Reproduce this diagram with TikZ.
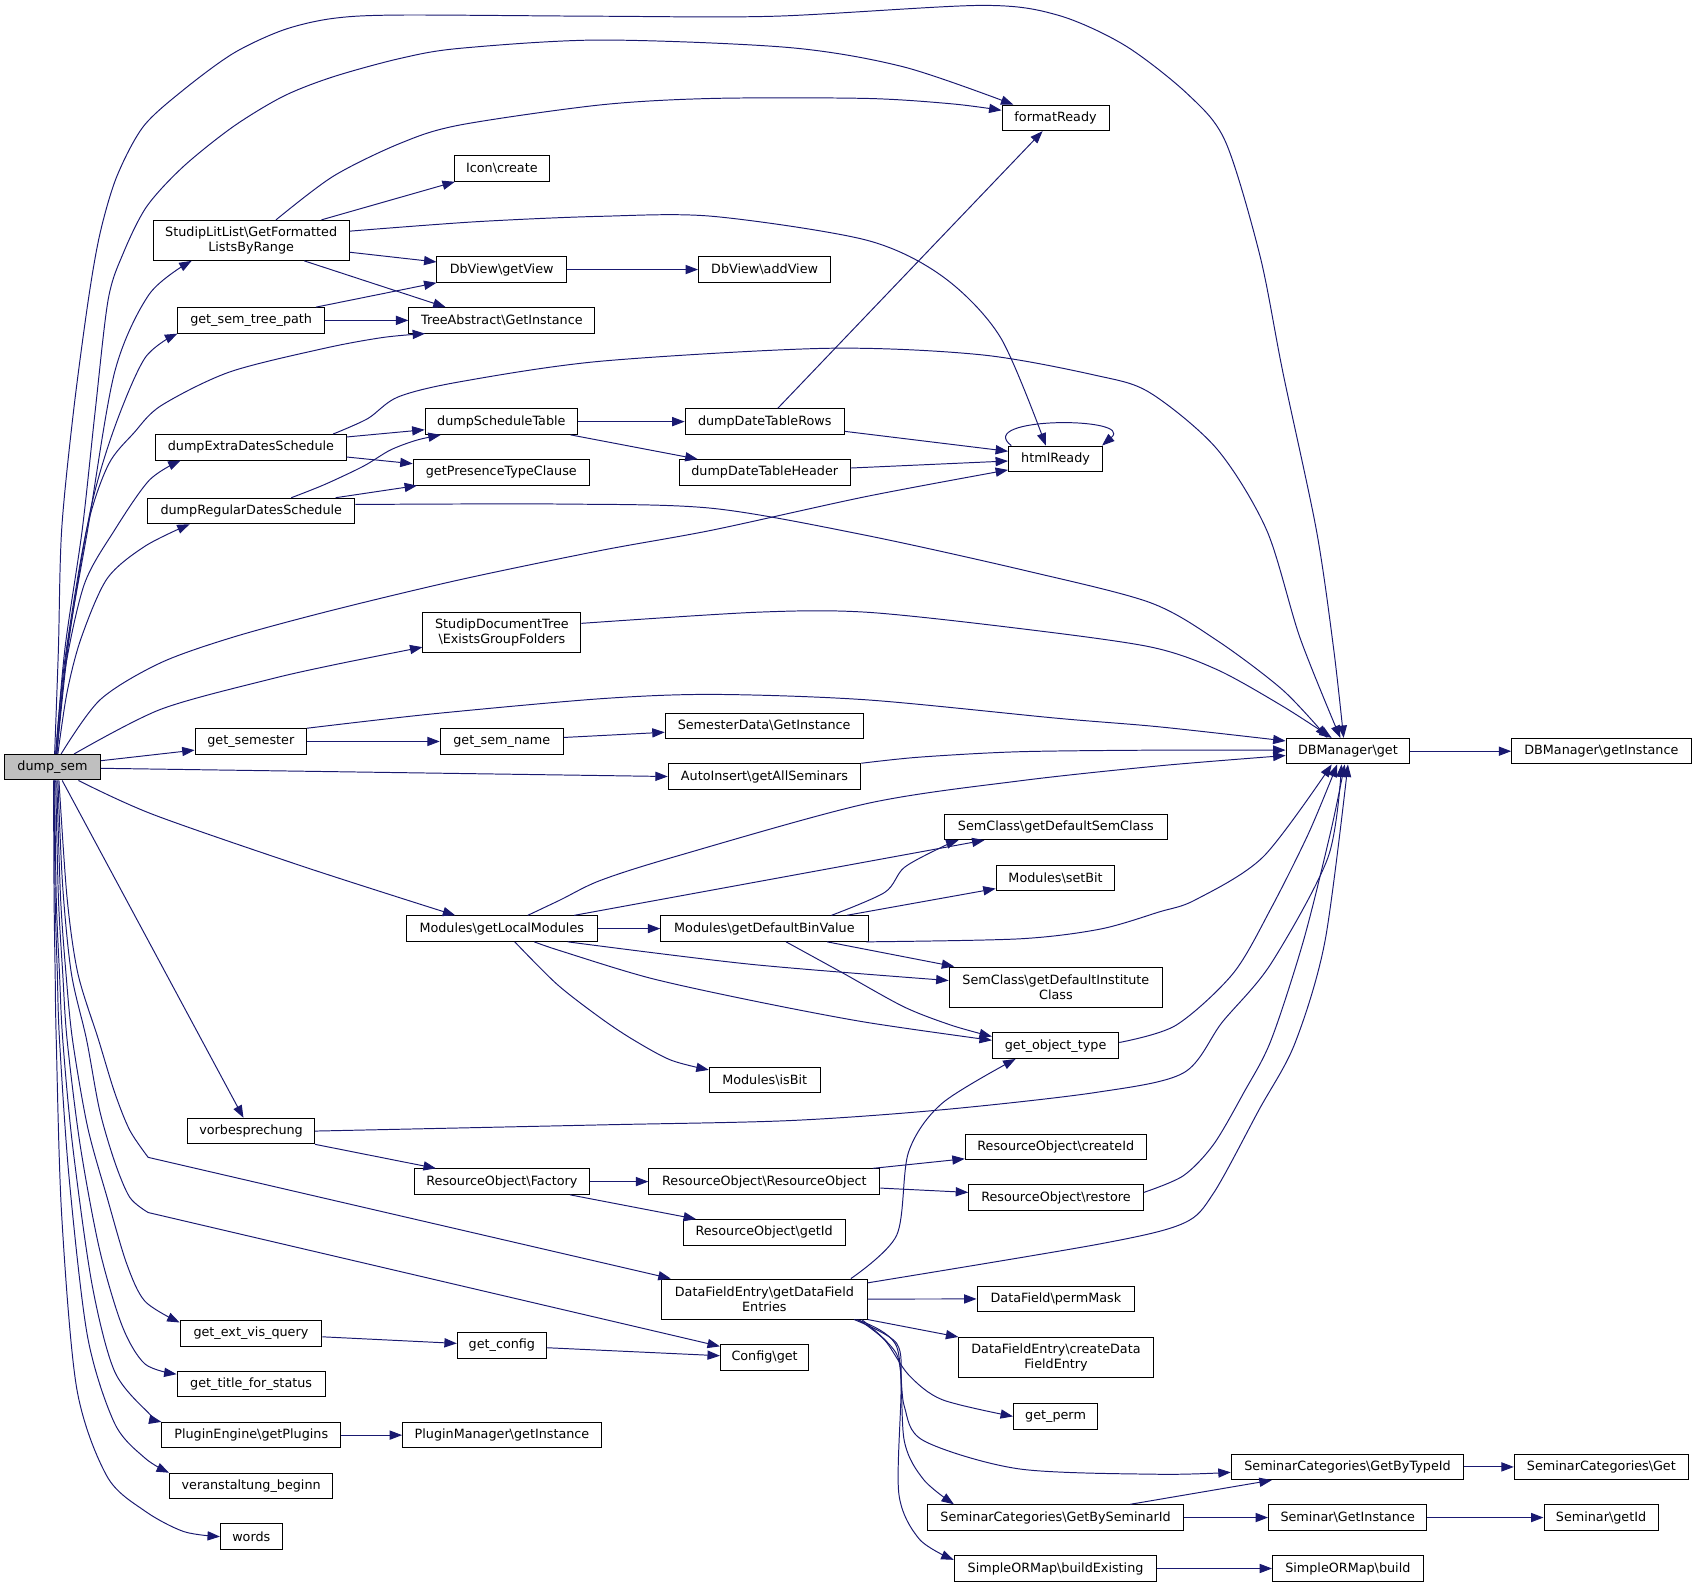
\documentclass[tikz,border=0pt]{standalone}
\usepackage{fontspec}
\setmainfont{DejaVu Sans}
\usetikzlibrary{arrows.meta}
\definecolor{edgec}{RGB}{25,25,112}
\definecolor{rootfill}{RGB}{191,191,191}
\newcommand{\bsl}{\textbackslash}
\begin{document}
\begin{tikzpicture}[x=1pt,y=-1pt,
  nbox/.style={draw=black, line width=0.9pt, fill=white, inner sep=0pt, minimum height=23.6pt, font=\fontsize{11.8}{13.5}\selectfont, align=center},
  tall/.style={minimum height=37pt},
  arr/.style={draw=edgec, line width=0.9pt, -{Triangle[length=11.5pt,width=8.5pt]}}
]
\useasboundingbox (0,0) rectangle (1568,1467.2);

% nodes
\node[nbox, fill=rootfill, minimum width=88.5] (dumpsem) at (48.5,709.3) {dump\_sem};
\node[nbox, minimum width=99] (fmt) at (975.9,109) {formatReady};
\node[nbox, minimum width=88] (icon) at (464,155.8) {Icon\bsl create};
\node[nbox, tall, minimum width=181.5] (slit) at (232.2,222.2) {StudipLitList\bsl GetFormatted\\ListsByRange};
\node[nbox, minimum width=119.6] (getview) at (463.8,249.2) {DbView\bsl getView};
\node[nbox, minimum width=122.2] (addview) at (706.9,249.2) {DbView\bsl addView};
\node[nbox, minimum width=135.5] (semtree) at (232.2,296.2) {get\_sem\_tree\_path};
\node[nbox, minimum width=172] (treeabs) at (464,296.2) {TreeAbstract\bsl GetInstance};
\node[nbox, minimum width=141] (dst) at (463.5,389.8) {dumpScheduleTable};
\node[nbox, minimum width=147.2] (dtr) at (707,389.8) {dumpDateTableRows};
\node[nbox, minimum width=87] (html) at (975.9,424.2) {htmlReady};
\node[nbox, minimum width=176] (dextra) at (232,413.5) {dumpExtraDatesSchedule};
\node[nbox, minimum width=163] (gptc) at (463.5,436.7) {getPresenceTypeClause};
\node[nbox, minimum width=158] (dth) at (707,436.7) {dumpDateTableHeader};
\node[nbox, minimum width=191.4] (dreg) at (232.3,472.4) {dumpRegularDatesSchedule};
\node[nbox, tall, minimum width=146] (sdoc) at (464,584.8) {StudipDocumentTree\\\bsl ExistsGroupFolders};
\node[nbox, minimum width=103] (getsem) at (231.9,685.5) {get\_semester};
\node[nbox, minimum width=113.8] (gsn) at (463.9,685.5) {get\_sem\_name};
\node[nbox, minimum width=183] (semdata) at (706.5,671) {SemesterData\bsl GetInstance};
\node[nbox, minimum width=178] (autoins) at (706.8,717.9) {AutoInsert\bsl getAllSeminars};
\node[nbox, minimum width=114.4] (dbget) at (1246.2,694.5) {DBManager\bsl get};
\node[nbox, minimum width=165.8] (dbinst) at (1480.5,694.5) {DBManager\bsl getInstance};
\node[nbox, minimum width=206] (scsem) at (976.2,764.5) {SemClass\bsl getDefaultSemClass};
\node[nbox, minimum width=109.8] (setbit) at (975.9,811.5) {Modules\bsl setBit};
\node[nbox, minimum width=176.3] (glm) at (463.9,858.5) {Modules\bsl getLocalModules};
\node[nbox, minimum width=191.7] (gdbv) at (706.7,858.5) {Modules\bsl getDefaultBinValue};
\node[nbox, tall, minimum width=197.5] (scinst) at (976.2,912.5) {SemClass\bsl getDefaultInstitute\\Class};
\node[nbox, minimum width=116.8] (gobj) at (975.9,966.8) {get\_object\_type};
\node[nbox, minimum width=102.6] (isbit) at (707,998.6) {Modules\bsl isBit};
\node[nbox, minimum width=117.4] (vorb) at (232.1,1045.7) {vorbesprechung};
\node[nbox, minimum width=167.4] (createid) at (976.1,1060.3) {ResourceObject\bsl createId};
\node[nbox, minimum width=162] (fac) at (464,1092.4) {ResourceObject\bsl Factory};
\node[nbox, minimum width=213.7] (ro) at (706.7,1092.4) {ResourceObject\bsl ResourceObject};
\node[nbox, minimum width=161.5] (restore) at (976.3,1107.1) {ResourceObject\bsl restore};
\node[nbox, minimum width=149.7] (getid) at (706.5,1139.3) {ResourceObject\bsl getId};
\node[nbox, tall, minimum width=190.3] (dfe) at (706.7,1201) {DataFieldEntry\bsl getDataField\\Entries};
\node[nbox, minimum width=145.8] (perm) at (976.2,1200.9) {DataField\bsl permMask};
\node[nbox, minimum width=131] (gevq) at (232,1232.9) {get\_ext\_vis\_query};
\node[nbox, minimum width=82.4] (gcfg) at (464,1244) {get\_config};
\node[nbox, minimum width=81.7] (cfg) at (706.9,1255) {Config\bsl get};
\node[nbox, tall, minimum width=179.7] (cdfe) at (976.3,1255) {DataFieldEntry\bsl createData\\FieldEntry};
\node[nbox, minimum width=137] (gtfs) at (232.2,1279.7) {get\_title\_for\_status};
\node[nbox, minimum width=77.8] (gperm) at (975.9,1309.5) {get\_perm};
\node[nbox, minimum width=165.2] (pe) at (232.3,1326.8) {PluginEngine\bsl getPlugins};
\node[nbox, minimum width=183.8] (pm) at (464.1,1326.8) {PluginManager\bsl getInstance};
\node[nbox, minimum width=215] (gbt) at (1245.8,1356.2) {SeminarCategories\bsl GetByTypeId};
\node[nbox, minimum width=161] (scget) at (1480.5,1356.2) {SeminarCategories\bsl Get};
\node[nbox, minimum width=151] (vb) at (232.2,1373.8) {veranstaltung\_beginn};
\node[nbox, minimum width=237] (gbs) at (975.9,1403) {SeminarCategories\bsl GetBySeminarId};
\node[nbox, minimum width=146.5] (semgi) at (1246,1403) {Seminar\bsl GetInstance};
\node[nbox, minimum width=105.5] (semid) at (1480.2,1403) {Seminar\bsl getId};
\node[nbox, minimum width=57] (words) at (232.3,1420.6) {words};
\node[nbox, minimum width=187.5] (bexist) at (975.9,1450.1) {SimpleORMap\bsl buildExisting};
\node[nbox, minimum width=139.2] (build) at (1246.1,1450.1) {SimpleORMap\bsl build};

% edges from dump_sem (upwards)
\draw[arr] plot[smooth] coordinates {([xshift=2]dumpsem.north) (54,600) (57,490) (68,380) (81.7,277) (92.5,215.7) (107.9,163.4) (132.5,117) (169.5,83.2) (215.7,49.3) (262,27.7) (308,17) (370,13.9) (555,15) (716,15) (907,5) (978,14) (1040,42) (1098,87) (1133,131) (1165,237) (1186,344) (1217,490) (1233,600) ([xshift=-4]dbget.north)};
\draw[arr] plot[smooth] coordinates {([xshift=3]dumpsem.north) (60,600) (76,490) (88,380) (100,277) (114,234) (135.6,191) (169.5,154) (215.7,117) (262,89) (308,71) (370,54) (425,44.7) (555,37) (730,44) (836,62) ([xshift=-39]fmt.north)};
\draw[arr] plot[smooth] coordinates {([xshift=4]dumpsem.north) (62,600) (81,490) (106,344) (138,272) ([xshift=-55]slit.south)};
\draw[arr] plot[smooth] coordinates {([xshift=4]dumpsem.north) (64,590) (84,470) (106,395) (134,331) (semtree.south west)};
\draw[arr] plot[smooth] coordinates {([xshift=3]dumpsem.north) (60,610) (80,490) (100,430) (124,400) (149,375) (212,344) (300,322) (354,312) ([xshift=-71]treeabs.south)};
\draw[arr] plot[smooth] coordinates {([xshift=4]dumpsem.north) (60,620) (78,540) (106,490) (138,444) ([xshift=-65]dextra.south)};
\draw[arr] plot[smooth] coordinates {([xshift=5]dumpsem.north) (62,640) (75,590) (99,535) (134,505) ([xshift=-57]dreg.south)};
\draw[arr] plot[smooth] coordinates {([xshift=8]dumpsem.north) (92.5,647) (148,613) (215.7,589) (308,564) (425,536) (555,509) (659,490) (801,459) ([yshift=2]html.south west)};
\draw[arr] plot[smooth] coordinates {([xshift=20]dumpsem.north) (148,656) (246.6,628.7) (308,614.8) ([yshift=-13.5]sdoc.west)};
\draw[arr] ([yshift=6]dumpsem.east) -- ([yshift=-8]getsem.west);
\draw[arr] ([yshift=-1]dumpsem.east) -- (autoins.west);
\draw[arr] plot[smooth] coordinates {([xshift=24]dumpsem.south) (141.5,753) (283,802) ([xshift=-43]glm.north)};
\draw[arr] ([xshift=9]dumpsem.south) -- ([xshift=-7]vorb.north);
% edges from dump_sem (downwards)
\draw[arr] plot[smooth] coordinates {([xshift=6]dumpsem.south) (62,830) (72,900) (91,961) (106,1010) (120,1045) (137,1070)} -- ([xshift=9]dfe.north west);
\draw[arr] plot[smooth] coordinates {([xshift=5]dumpsem.south) (58,820) (66,900) (80,961) (92,1026) (106,1074) (120,1107) (137,1121)} -- ([yshift=-2]cfg.north west);
\draw[arr] plot[smooth] coordinates {([xshift=4]dumpsem.south) (56,830) (61,900) (67,961) (81,1042) (99,1107) (117,1168) (134,1203) ([yshift=-2]gevq.north west)};
\draw[arr] plot[smooth] coordinates {([xshift=3]dumpsem.south) (54,830) (58,900) (62,961) (74,1058) (92,1155) (113,1226) (134,1261) ([yshift=-3]gtfs.north west)};
\draw[arr] plot[smooth] coordinates {([xshift=2]dumpsem.south) (52,830) (55,900) (58,961) (67,1058) (85,1187) (106,1268) (138,1307) (pe.north west)};
\draw[arr] plot[smooth] coordinates {([xshift=1.5]dumpsem.south) (51,830) (53,900) (55,961) (64,1090) (81,1236) (106,1316) (134,1348) (vb.north west)};
\draw[arr] plot[smooth] coordinates {([xshift=1]dumpsem.south) (50,830) (51,900) (52,961) (57,1123) (71,1284) (99,1365) (134,1397) (170,1416) (words.west)};

% StudipLitList
\draw[arr] plot[smooth] coordinates {([xshift=23]slit.north) (308,163) (370,132.5) (425,115.6) (555,97) (659,91) (801,91) (880,96) ([yshift=7]fmt.west)};
\draw[arr] ([xshift=65]slit.north) -- ([xshift=1]icon.south west);
\draw[arr] plot[smooth] coordinates {([yshift=8.5]slit.east) (440,205) (555,200) (659,200) (801,222) (872,256) (925,312) ([xshift=-9]html.north)};
\draw[arr] ([yshift=-11]slit.east) -- ([yshift=7]getview.west);
\draw[arr] ([xshift=49]slit.south) -- ([xshift=-52]treeabs.north);
\draw[arr] ([xshift=60]semtree.north) -- (getview.south west);
\draw[arr] (semtree.east) -- (treeabs.west);
\draw[arr] (getview.east) -- (addview.west);

% schedule
\draw[arr] plot[smooth] coordinates {([xshift=76]dextra.north) (340,387) (368,367) (425,353) (555,334) (765,322) (907,328) (1013,347) (1063,363) (1125,415) (1171,490) (1202,590) ([xshift=-7]dbget.north)};
\draw[arr] ([yshift=9.5]dextra.east) -- ([yshift=-7.5]dst.west);
\draw[arr] ([yshift=-9]dextra.east) -- ([yshift=8]gptc.west);
\draw[arr] plot[smooth] coordinates {([xshift=37]dreg.north) (300,448) (336,431) (361,416) (385,407) ([xshift=-56]dst.south)};
\draw[arr] ([xshift=78]dreg.north) -- ([xshift=4]gptc.south west);
\draw[arr] plot[smooth] coordinates {([yshift=6]dreg.east) (518,466) (659,470) (801,495) (950,528) (1063,557) (1125,592) (1186,638) ([xshift=-19]dbget.north)};
\draw[arr] (dst.east) -- (dtr.west);
\draw[arr] ([xshift=64]dst.south) -- ([xshift=-62]dth.north);
\draw[arr] ([xshift=12]dtr.north) -- ([xshift=-12]fmt.south);
\draw[arr] ([yshift=-9]dtr.east) -- ([yshift=7]html.west);
\draw[arr] ([yshift=4]dth.east) -- ([yshift=-2]html.west);
\draw[arr] ([xshift=3]html.north west) .. controls (900,385) and (1050,385) .. ([xshift=-1]html.north east);

% DBManager inputs
\draw[arr] plot[smooth] coordinates {([yshift=8.5]sdoc.east) (700,566) (801,566) (942,581) (1063,598) (1125,619) (1186,653) ([xshift=-15]dbget.north)};
\draw[arr] plot[smooth] coordinates {(getsem.north east) (400,660) (555,646) (659,642) (801,647) (977,664) (1072,672) ([yshift=9.5]dbget.west)};
\draw[arr] (getsem.east) -- (gsn.west);
\draw[arr] ([yshift=3.7]gsn.east) -- ([yshift=-6]semdata.west);
\draw[arr] plot[smooth] coordinates {(autoins.north east) (850,700) (942,695) (1072,693.5) ([yshift=1]dbget.west)};
\draw[arr] plot[smooth] coordinates {([xshift=24]glm.north) (518,832) (555,814) (624,792) (801,743) (942,722) (1072,708) ([yshift=-4]dbget.west)};
\draw[arr] (dbget.east) -- (dbinst.west);

% Modules
\draw[arr] ([xshift=67]glm.north) -- ([xshift=-66]scsem.south);
\draw[arr] (glm.east) -- (gdbv.west);
\draw[arr] plot[smooth] coordinates {([xshift=61]glm.south) (695,891.6) ([yshift=6]scinst.west)};
\draw[arr] plot[smooth] coordinates {([xshift=30]glm.south) (518,879) (600,904) (695,925) (800,945) ([yshift=5]gobj.west)};
\draw[arr] plot[smooth] coordinates {([xshift=12]glm.south) (515,910) (555,941) (585,961) (620,980) ([yshift=9.5]isbit.west)};
\draw[arr] plot[smooth] coordinates {([xshift=62]gdbv.north) (818,825) (836,802) (871,783) ([xshift=-90]scsem.south)};
\draw[arr] ([xshift=76]gdbv.north) -- ([yshift=-10]setbit.west);
\draw[arr] plot[smooth] coordinates {([xshift=-2]gdbv.south east) (942,868) (1017,859) (1072,843) (1105,832) (1168,792) ([xshift=-15]dbget.south)};
\draw[arr] ([xshift=58]gdbv.south) -- ([xshift=-94]scinst.north);
\draw[arr] plot[smooth] coordinates {([xshift=20]gdbv.south) (780,900) (836,931) (880,948) ([yshift=8.5]gobj.west)};
\draw[arr] plot[smooth] coordinates {([yshift=3]gobj.east) (1087,948) (1140,900) (1175,840) (1210,770) ([xshift=-10]dbget.south)};

% vorbesprechung / ResourceObject
\draw[arr] plot[smooth] coordinates {(vorb.east) (555,1040) (730,1036) (871,1026) (1013,1010) (1094,992) (1130,945) (1175,891) (1228,792) ([xshift=-6]dbget.south)};
\draw[arr] (vorb.south east) -- ([xshift=-61]fac.north);
\draw[arr] (fac.east) -- (ro.west);
\draw[arr] ([xshift=63]fac.south) -- ([xshift=-63]getid.north);
\draw[arr] ([xshift=-7]ro.north east) -- ([yshift=-11]createid.west);
\draw[arr] ([yshift=-6]ro.east) -- ([yshift=4.7]restore.west);
\draw[arr] plot[smooth] coordinates {([yshift=4.7]restore.east) (1094,1087) (1122,1058) (1150,1010) (1175,962) (1205,870) (1230,770) ([xshift=-3]dbget.south)};

% DataFieldEntry
\draw[arr] plot[smooth] coordinates {([xshift=80]dfe.north) (829,1142) (840,1065) (871,1020) ([xshift=-37]gobj.south)};
\draw[arr] plot[smooth] coordinates {([yshift=15]dfe.east) (1017,1150) (1094,1131) (1122,1103) (1164,1026) (1197,965) (1225,870) (dbget.south)};
\draw[arr] (dfe.east) -- (perm.west);
\draw[arr] (dfe.south east) -- (cdfe.north west);
\draw[arr] plot[smooth] coordinates {([xshift=87]dfe.south) (818,1239) (840,1271) (871,1294) (gperm.west)};
\draw[arr] plot[smooth] coordinates {([xshift=90]dfe.south) (829,1252) (836,1300) (854,1332) (942,1358) (1072,1363) ([yshift=-5]gbt.west)};
\draw[arr] plot[smooth] coordinates {([xshift=85]dfe.south) (829,1245) (836,1332) (854,1368) ([xshift=-94]gbs.north)};
\draw[arr] plot[smooth] coordinates {([xshift=83]dfe.south) (829,1242) (833,1284) (831,1381) (850,1423) ([yshift=8]bexist.west)};

% remaining
\draw[arr] ([yshift=-3]gevq.east) -- ([yshift=2]gcfg.west);
\draw[arr] ([yshift=-2]gcfg.east) -- ([yshift=1.6]cfg.west);
\draw[arr] (pe.east) -- (pm.west);
\draw[arr] (gbt.east) -- (scget.west);
\draw[arr] ([xshift=69]gbs.north) -- ([xshift=-70]gbt.south);
\draw[arr] (gbs.east) -- (semgi.west);
\draw[arr] (semgi.east) -- (semid.west);
\draw[arr] (bexist.east) -- (build.west);
\end{tikzpicture}
\end{document}
